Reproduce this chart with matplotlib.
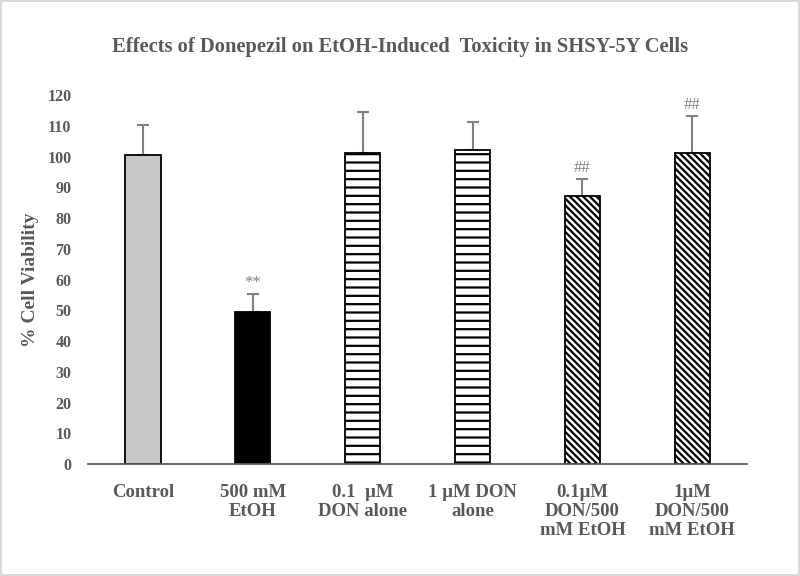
import matplotlib
matplotlib.use("Agg")
import matplotlib.pyplot as plt

# data
groups = ["Control", "500 mM\nEtOH", "0.1  \u00b5M\nDON alone", "1 \u00b5M DON\nalone",
          "0.1\u00b5M\nDON/500\nmM EtOH", "1\u00b5M\nDON/500\nmM EtOH"]
viability = [100.4, 49.5, 101.3, 102.1, 87.2, 101.3]
sd = [9.8, 5.9, 13.1, 9.0, 5.5, 11.9]
marks = ["", "**", "", "", "##", "##"]

fills = ["#c8c8c8", "black", "white", "white", "white", "white"]
hatches = ["", "", "--", "--", "\\" * 5, "\\" * 5]

grey = "#595959"
plt.rcParams["font.family"] = ["Liberation Serif", "DejaVu Serif"]
plt.rcParams["font.weight"] = "bold"
plt.rcParams["hatch.linewidth"] = 1.6

fig = plt.figure(figsize=(8, 5.76), dpi=100)
ax = fig.add_axes([0.11, 0.194, 0.824, 0.641])

x = list(range(len(groups)))
bars = ax.bar(x, viability, width=0.32, color=fills, edgecolor="black", linewidth=1.3,
              zorder=2)
for b, h in zip(bars, hatches):
    if h:
        b.set_hatch(h)

ax.errorbar(x, viability, yerr=[[0] * len(sd), sd], fmt="none", ecolor="#808080",
            elinewidth=1.5, capsize=4, capthick=1.5, zorder=1)

# significance marks above the error bars
for xi, v, s, m in zip(x, viability, sd, marks):
    if m:
        ax.text(xi, v + s + 3.5, m, ha="center", va="center", fontsize=12,
                fontweight="normal", color="#808080")

ax.set_xlim(-0.5, len(groups) - 0.5)
ax.set_ylim(0, 120)
ax.set_yticks(range(0, 121, 10))
ax.set_xticks(x)
ax.set_xticklabels(groups, fontsize=13.5, color=grey, linespacing=1.15)
ax.tick_params(axis="y", length=0, labelsize=11.5, labelcolor=grey, pad=12)
ax.tick_params(axis="x", length=0, pad=14)

for side in ["top", "right", "left"]:
    ax.spines[side].set_visible(False)
ax.spines["bottom"].set_color(grey)
ax.spines["bottom"].set_linewidth(1.3)

ax.set_ylabel("% Cell Viability", fontsize=14, fontweight="bold", color=grey, labelpad=6)
fig.suptitle("Effects of Donepezil on EtOH-Induced  Toxicity in SHSY-5Y Cells",
             fontsize=14.8, fontweight="bold", color=grey, y=0.935)

fig.patch.set_edgecolor("#d9d9d9")
fig.patch.set_linewidth(1.5)
fig.savefig("out.png", dpi=100, edgecolor=fig.get_edgecolor())
